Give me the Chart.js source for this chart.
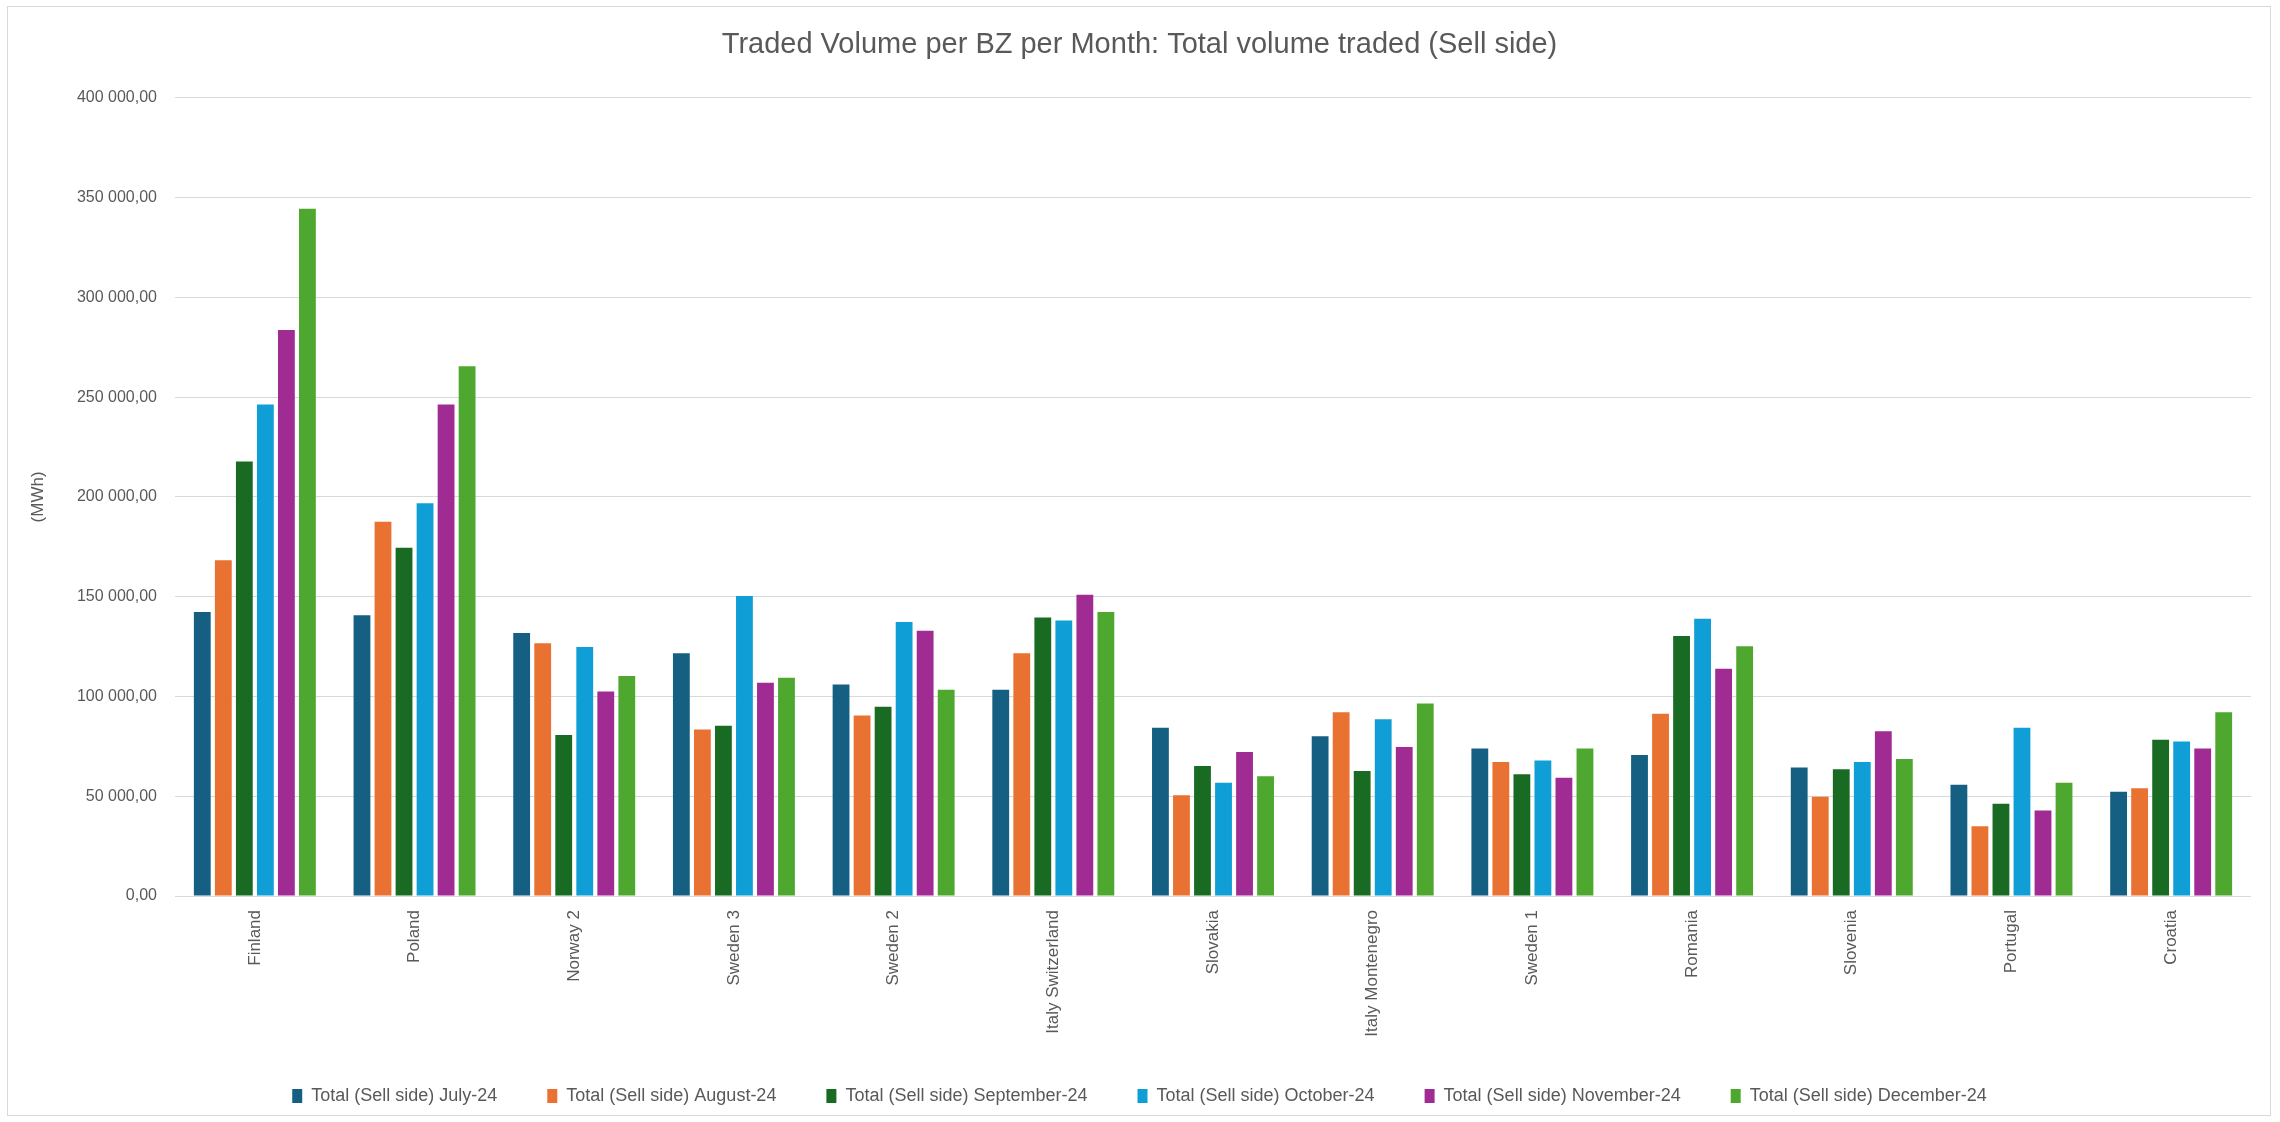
<!DOCTYPE html>
<html>
<head>
<meta charset="utf-8">
<script src="https://cdn.jsdelivr.net/npm/chart.js@4.4.1/dist/chart.umd.min.js"></script>
<style>
  html, body { margin: 0; padding: 0; background: #ffffff; }
  #frame {
    position: absolute; left: 7px; top: 6px;
    width: 2264px; height: 1110px;
    border: 1px solid #d9d9d9; box-sizing: border-box;
  }
  #chart { display: block; }
</style>
</head>
<body>
<div id="frame"><canvas id="chart" width="2262" height="1108"></canvas></div>
<script>
// Bidding zones (x axis)
const zones = ['Finland', 'Poland', 'Norway 2', 'Sweden 3', 'Sweden 2', 'Italy Switzerland',
  'Slovakia', 'Italy Montenegro', 'Sweden 1', 'Romania', 'Slovenia', 'Portugal', 'Croatia'];

// Total volume traded, sell side (MWh)
const july24 = [142300, 140700, 131800, 121700, 106000, 103300, 84300, 80100, 73900, 70600, 64400, 55700, 52300];
const august24 = [168300, 187500, 126700, 83400, 90500, 121600, 50500, 92100, 67100, 91300, 49700, 35000, 54000];
const september24 = [217700, 174500, 80700, 85300, 94800, 139600, 65200, 62700, 61000, 130300, 63500, 46200, 78300];
const october24 = [246300, 196800, 124800, 150300, 137300, 138000, 56700, 88600, 67900, 139000, 67100, 84300, 77400];
const november24 = [283700, 246300, 102500, 106900, 132900, 151000, 72200, 74700, 59200, 113900, 82600, 42800, 73900];
const december24 = [344400, 265500, 110200, 109400, 103300, 142300, 60000, 96500, 73900, 125100, 68700, 56700, 92100];

const seriesLabels = ['Total (Sell side) July-24', 'Total (Sell side) August-24', 'Total (Sell side) September-24',
  'Total (Sell side) October-24', 'Total (Sell side) November-24', 'Total (Sell side) December-24'];
const seriesData = [july24, august24, september24, october24, november24, december24];
const seriesColors = ['#156082', '#e97132', '#196b24', '#0f9ed5', '#a02b93', '#4ea72e'];

const FONT = '"Liberation Sans Narrow", "Liberation Sans", Arial, sans-serif';
const GREY = '#595959';

// 400000 -> "400 000,00"
function formatVolume(value) {
    const whole = Math.round(value).toString().replace(/\B(?=(\d{3})+(?!\d))/g, ' ');
    return whole + ',00';
}

new Chart(document.getElementById('chart'), {
    type: 'bar',
    data: {
        labels: zones,
        datasets: seriesData.map((values, i) => ({
            label: seriesLabels[i],
            data: values,
            backgroundColor: seriesColors[i],
            borderWidth: 0,
            categoryPercentage: 0.79,
            barPercentage: 0.8
        }))
    },
    options: {
        responsive: false,
        animation: false,
        layout: { padding: { left: 20, right: 19, top: 14, bottom: 0 } },
        plugins: {
            title: {
                display: true,
                text: 'Traded Volume per BZ per Month: Total volume traded (Sell side)',
                color: GREY,
                font: { family: FONT, size: 29, weight: 'normal' },
                padding: { top: 7, bottom: 35 }
            },
            legend: {
                position: 'bottom',
                labels: {
                    color: GREY,
                    font: { family: FONT, size: 18 },
                    boxWidth: 10,
                    boxHeight: 14,
                    padding: 50
                }
            },
            tooltip: { enabled: false }
        },
        scales: {
            x: {
                grid: { display: false, drawTicks: false },
                border: { display: false },
                ticks: {
                    color: GREY,
                    font: { family: FONT, size: 17 },
                    minRotation: 90,
                    maxRotation: 90,
                    padding: 14
                },
                afterFit: (scale) => { scale.height = 141; }
            },
            y: {
                min: 0,
                max: 400000,
                ticks: {
                    stepSize: 50000,
                    color: GREY,
                    font: { family: FONT, size: 16 },
                    padding: 18,
                    callback: (value) => formatVolume(value)
                },
                grid: { color: '#d9d9d9', lineWidth: 1, drawTicks: false },
                border: { display: false },
                title: {
                    display: true,
                    text: '(MWh)',
                    color: GREY,
                    font: { family: FONT, size: 17 },
                    padding: { top: 0, bottom: 10 }
                },
                afterFit: (scale) => { scale.width = 147; }
            }
        }
    }
});
</script>
</body>
</html>
